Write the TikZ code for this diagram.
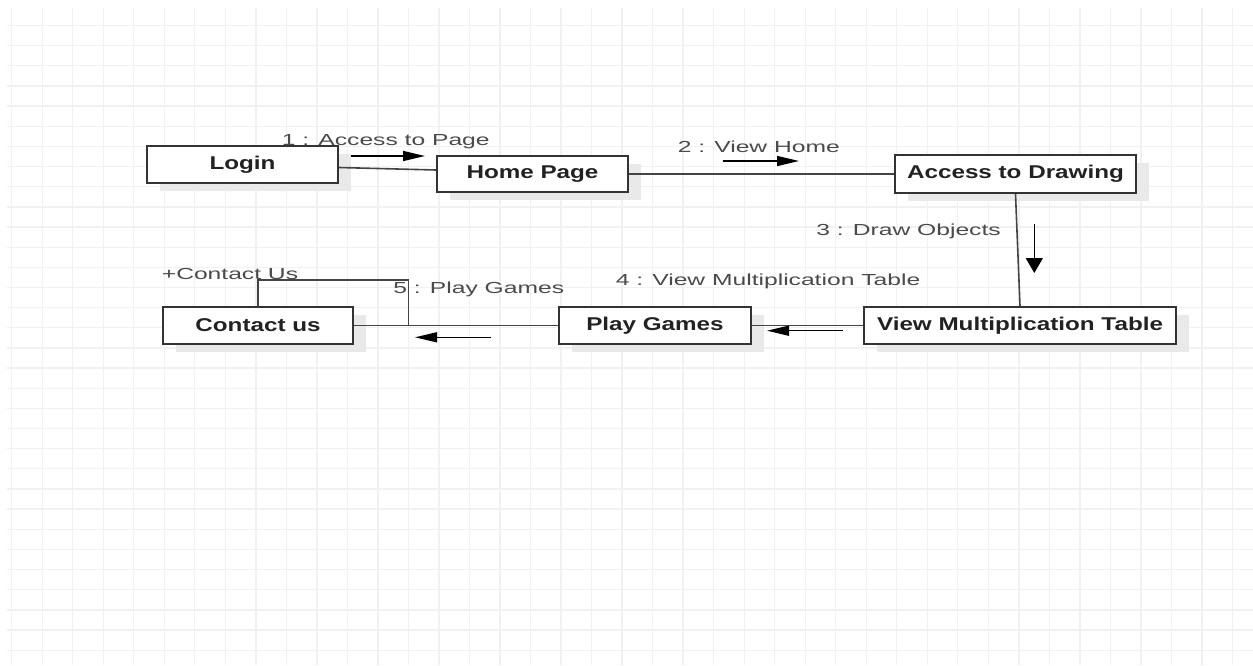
\documentclass[tikz,border=0pt]{standalone}
\usepackage{fontspec}
\usepackage{graphicx}
\setmainfont{Liberation Sans}
\usetikzlibrary{arrows.meta,calc}
\definecolor{gridc}{HTML}{F1F1F1}
\definecolor{boxc}{HTML}{333333}
\definecolor{txtc}{HTML}{222222}
\definecolor{labc}{HTML}{4A4A4A}
\definecolor{shadc}{HTML}{E9E9E9}
\definecolor{linec}{HTML}{444444}
\newcommand{\bxt}[1]{\scalebox{1.31}[1]{\bfseries #1}}
\newcommand{\lbt}[1]{\scalebox{1.54}[1]{#1}}
\tikzset{
  umlbox/.style={draw=boxc, line width=2pt, fill=white, inner sep=0pt,
    text=txtc, font=\fontsize{18.5}{20}\selectfont,
    preaction={fill=shadc, transform canvas={shift={(13pt,-8pt)}}}},
  msglabel/.style={inner sep=0pt, text=labc, font=\fontsize{16}{18}\selectfont},
  link/.style={draw=linec, line width=1.6pt},
  harrow/.style={line width=1.5pt, -{Triangle[length=22pt,width=10pt]}},
  varrow/.style={line width=1.5pt, -{Triangle[length=15pt,width=17pt]}},
  gridline/.style={draw=gridc, line width=1.3pt}
}
\begin{document}
\begin{tikzpicture}[x=1pt,y=-1pt]
\useasboundingbox (0,0) rectangle (1253,665);
\fill[white] (0,0) rectangle (1253,665);
% grid
\foreach \k in {0,...,40} {
  \draw[gridline] ({11.7+30.52*\k},8) -- ({11.7+30.52*\k},665);
}
\foreach \k in {0,...,31} {
  \draw[gridline] (7,{25.5+20.15*\k}) -- (1253,{25.5+20.15*\k});
}
% boxes
\node[umlbox, minimum width=191pt, minimum height=37pt] (login) at (242.5,164.5) {\bxt{Login}};
\node[umlbox, minimum width=191pt, minimum height=36pt] (home) at (532.5,174) {\bxt{Home Page}};
\node[umlbox, minimum width=241pt, minimum height=38pt] (access) at (1015.5,174) {\bxt{Access to Drawing}};
\node[umlbox, minimum width=311.5pt, minimum height=37pt] (view) at (1020,325.5) {\bxt{View Multiplication Table}};
\node[umlbox, minimum width=192pt, minimum height=37pt] (play) at (655,325.5) {\bxt{Play Games}};
\node[umlbox, minimum width=190.6pt, minimum height=37.5pt] (contact) at (258,325.5) {\bxt{Contact us}};
% links
\draw[link] ($(login.east)+(0,3)$) -- ($(home.west)+(0,-4)$);
\draw[link] (home.east) -- (access.west);
\draw[link] (access.south) -- (view.north);
\draw[link] (view.west) -- (play.east);
\draw[link] (play.west) -- (contact.east);
\draw[link] (contact.north) -- ++(0,-26) -| ($(contact.east)+(54,0)$) -- (contact.east);
% message arrows
\coordinate (a1s) at (350.7,156);  \coordinate (a1e) at (425,156);
\coordinate (a2s) at (722.7,161);  \coordinate (a2e) at (799,161);
\coordinate (a3s) at (1034.3,224); \coordinate (a3e) at (1034.3,273);
\coordinate (a4s) at (842.7,330.7);\coordinate (a4e) at (767,330.7);
\coordinate (a5s) at (491,337.3);  \coordinate (a5e) at (415,337.3);
\draw[harrow] (a1s) -- (a1e);
\draw[harrow] (a2s) -- (a2e);
\draw[varrow] (a3s) -- (a3e);
\draw[harrow] (a4s) -- (a4e);
\draw[harrow] (a5s) -- (a5e);
% labels
\node[msglabel] (l1) at (385.8,141.7) {\lbt{1 : Access to Page}};
\node[msglabel] (l2) at (758.8,146.7) {\lbt{2 : View Home}};
\node[msglabel] (l3) at (908.5,231) {\lbt{3 : Draw Objects}};
\node[msglabel] (l4) at (768,281.7) {\lbt{4 : View Multiplication Table}};
\node[msglabel] (l5) at (478.8,289.3) {\lbt{5 : Play Games}};
\node[msglabel] (l6) at (230,274) {\lbt{+Contact Us}};
\end{tikzpicture}
\end{document}
